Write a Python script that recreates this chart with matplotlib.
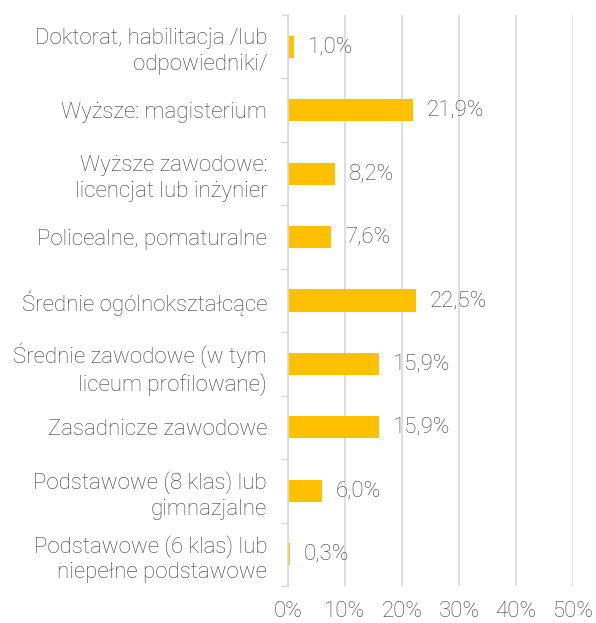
import matplotlib.pyplot as plt
from matplotlib.ticker import FixedLocator

plt.rcParams['font.family'] = ['Roboto', 'DejaVu Sans']

categories = [
    'Doktorat, habilitacja /lub\nodpowiedniki/',
    'Wyższe: magisterium',
    'Wyższe zawodowe:\nlicencjat lub inżynier',
    'Policealne, pomaturalne',
    'Średnie ogólnokształcące',
    'Średnie zawodowe (w tym\nliceum profilowane)',
    'Zasadnicze zawodowe',
    'Podstawowe (8 klas) lub\ngimnazjalne',
    'Podstawowe (6 klas) lub\nniepełne podstawowe',
]
values = [1.0, 21.9, 8.2, 7.6, 22.5, 15.9, 15.9, 6.0, 0.3]
x_ticks = [0, 10, 20, 30, 40, 50]

text_color = '#404040'
grid_color = '#D9D9D9'
bar_color = '#FFC000'
fs = 16

fig = plt.figure(figsize=(5.96, 6.23), dpi=100)
ax = fig.add_axes([288 / 596, 1 - 586 / 623, 285 / 596, 571 / 623])

pos = list(range(len(categories)))
ax.barh(pos, values, height=0.35, color=bar_color, zorder=3)

for p, v in zip(pos, values):
    ax.annotate(f'{v:.1f}%'.replace('.', ','), (v, p), xytext=(10, 0),
                textcoords='offset points', va='center', ha='left',
                fontsize=fs, color=text_color, fontweight='light')

ax.set_xlim(0, 50)
ax.set_ylim(len(categories) - 0.5, -0.5)
ax.set_xticks(x_ticks)
ax.set_xticklabels([f'{t}%' for t in x_ticks], fontsize=fs, color=text_color,
                   fontweight='light')
ax.set_yticks(pos)
ax.set_yticklabels(categories, fontsize=fs, color=text_color,
                   fontweight='light', ha='right', linespacing=1.3)
ax.tick_params(axis='y', which='major', length=0, pad=15)
ax.tick_params(axis='x', length=0, pad=11)
ax.yaxis.set_minor_locator(FixedLocator([i - 0.5 for i in range(len(categories) + 1)]))
ax.tick_params(axis='y', which='minor', length=5, color=grid_color, width=1)

ax.grid(axis='x', color=grid_color, linewidth=1.2, zorder=0)
for s in ['top', 'right', 'bottom']:
    ax.spines[s].set_visible(False)
ax.spines['left'].set_color(grid_color)
ax.spines['left'].set_linewidth(1.2)
ax.spines['left'].set_zorder(4)

fig.savefig('out.png', dpi=100)
